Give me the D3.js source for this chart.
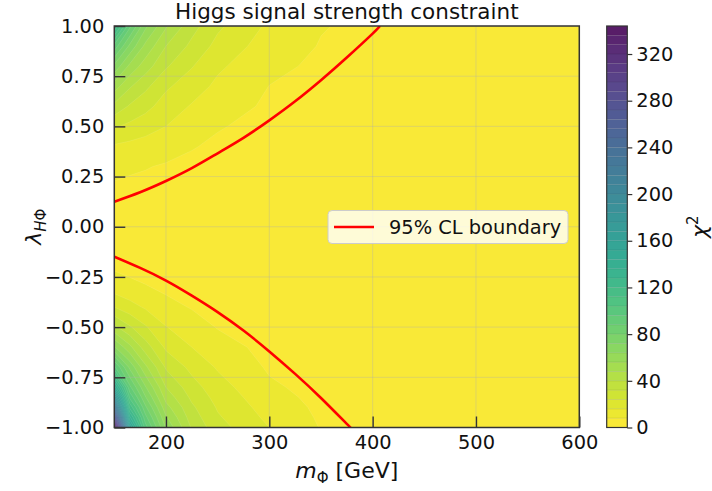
<!DOCTYPE html>
<html>
<head>
<meta charset="utf-8">
<script src="https://cdn.jsdelivr.net/npm/d3@7"></script>
<style>
  body { margin: 0; background: #fff; }
  svg { display: block; }
  text { font-family: "DejaVu Sans", sans-serif; fill: #111; }
</style>
</head>
<body>
<svg id="chart" width="712" height="491"></svg>
<script>
// chi^2 on a (mass, lambda) grid
const massCols = [150, 165, 180, 200, 225, 250, 300, 350, 400, 500, 600];
const lambdaRows = [-1, -0.95, -0.9, -0.85, -0.8, -0.7, -0.6, -0.5, -0.4, -0.3, -0.2, -0.1,
  0, 0.1, 0.2, 0.3, 0.4, 0.5, 0.6, 0.7, 0.8, 0.9, 1];
const chi2Grid = [
  [344, 161, 100, 63, 39, 27, 16, 7.6, 4.8, 2.0, 1.0],
  [275, 138, 91, 57, 36, 25, 14.1, 7.0, 4.3, 1.9, 0.9],
  [225, 118, 82, 51, 33.5, 23.2, 12.4, 6.5, 3.9, 1.7, 0.7],
  [185, 102, 73, 45, 30.3, 21.2, 10.8, 5.9, 3.4, 1.5, 0.6],
  [148, 90, 65, 40, 27.4, 19.2, 9.3, 5.3, 3.0, 1.3, 0.6],
  [98, 70, 50, 31, 21.7, 15.2, 7.0, 4.1, 2.4, 1.0, 0.5],
  [65, 50, 36, 22.5, 16, 11.2, 5.6, 3.0, 1.9, 0.7, 0.35],
  [42, 33, 25, 16.3, 11.5, 7.6, 4.0, 2.2, 1.3, 0.5, 0.25],
  [24, 19, 15, 10.3, 7.5, 5.4, 2.5, 1.5, 0.75, 0.3, 0.15],
  [12, 10, 8.5, 6.5, 4.6, 3.0, 1.5, 0.75, 0.45, 0.17, 0.08],
  [7, 5.8, 4.8, 3.3, 2.0, 1.3, 0.62, 0.33, 0.18, 0.08, 0.03],
  [3.8, 2.2, 1.4, 0.8, 0.5, 0.35, 0.16, 0.08, 0.05, 0.02, 0.01],
  [0, 0, 0, 0, 0, 0, 0, 0, 0, 0, 0],
  [4.8, 3.8, 2.8, 1.5, 0.9, 0.5, 0.23, 0.12, 0.07, 0.03, 0.01],
  [7.2, 6.5, 6.3, 5.0, 2.9, 1.8, 0.9, 0.5, 0.27, 0.11, 0.05],
  [10, 9.2, 8.4, 7.3, 6.1, 4.0, 2.0, 1.1, 0.6, 0.25, 0.12],
  [15, 13.8, 12.5, 11, 8.5, 6.6, 3.6, 2.0, 1.1, 0.44, 0.21],
  [25, 22, 19.5, 16, 12, 8.6, 5.5, 3.1, 1.7, 0.7, 0.34],
  [37.7, 31, 26.5, 20.4, 15.3, 11.4, 6.8, 4.4, 2.5, 1.0, 0.47],
  [52, 41, 34, 25.3, 19.8, 14.3, 7.9, 5.7, 3.4, 1.5, 0.64],
  [70, 54, 44, 33, 24.5, 17.4, 9.8, 6.6, 4.3, 2.0, 0.85],
  [93, 70, 54, 40, 30, 21.6, 12, 7.6, 5.3, 2.5, 1.0],
  [128, 90, 66, 49, 35, 25.5, 14.5, 8.4, 6.3, 3.0, 1.2]
];

// 95% CL boundary curves [mass, lambda]
const upperBoundary = [[150, 0.125], [175, 0.172], [200, 0.228], [225, 0.292], [250, 0.366],
  [275, 0.443], [300, 0.530], [325, 0.625], [350, 0.73], [375, 0.843], [400, 0.962], [407, 1.0]];
const lowerBoundary = [[150, -0.149], [175, -0.205], [200, -0.268], [225, -0.343], [250, -0.425],
  [275, -0.517], [300, -0.621], [325, -0.733], [350, -0.853], [375, -0.982], [378.8, -1.0]];

const xTicks = [200, 300, 400, 500, 600];
const yTicks = [-1, -0.75, -0.5, -0.25, 0, 0.25, 0.5, 0.75, 1];
const cbTicks = [0, 40, 80, 120, 160, 200, 240, 280, 320];
const levelStep = 8, levelMax = 344;

const svg = d3.select("#chart");
const plotL = 114.3, plotR = 579.3, plotT = 26, plotB = 427.5;

const x = d3.scaleLinear().domain([150, 600]).range([plotL, plotR]);
const y = d3.scaleLinear().domain([-1, 1]).range([plotB, plotT]);

const levels = d3.range(0, levelMax + 0.1, levelStep);
const nBands = levels.length - 1;
const bandColor = i => d3.interpolateRgb("#ffffff", d3.interpolateViridis(1 - (i + 0.5) / nBands))(0.9);

// grid index -> data value (d3.contours puts value i at i + 0.5)
const colIdx = d3.scaleLinear().domain(massCols.map((_, i) => i + 0.5)).range(massCols).clamp(true);
const rowIdx = d3.scaleLinear().domain(lambdaRows.map((_, i) => i + 0.5)).range(lambdaRows).clamp(true);
const proj = d3.geoTransform({
  point(px, py) { this.stream.point(x(colIdx(px)), y(rowIdx(py))); }
});
const path = d3.geoPath(proj);

const contours = d3.contours()
  .size([massCols.length, lambdaRows.length])
  .thresholds(levels.slice(0, -1))(chi2Grid.flat());

svg.append("clipPath").attr("id", "clip")
  .append("rect").attr("x", plotL).attr("y", plotT).attr("width", plotR - plotL).attr("height", plotB - plotT);

const plotArea = svg.append("g").attr("clip-path", "url(#clip)");

plotArea.selectAll("path.band")
  .data(contours)
  .enter().append("path")
  .attr("class", "band")
  .attr("d", path)
  .attr("fill", (d, i) => bandColor(i))
  .attr("stroke", "#ffffff")
  .attr("stroke-opacity", 0.18)
  .attr("stroke-width", 0.6);

// grid
plotArea.selectAll(".vgrid").data(xTicks).enter().append("line")
  .attr("x1", d => x(d)).attr("x2", d => x(d)).attr("y1", plotT).attr("y2", plotB)
  .attr("stroke", "#b0b0b0").attr("stroke-opacity", 0.35).attr("stroke-width", 1);
plotArea.selectAll(".hgrid").data(yTicks).enter().append("line")
  .attr("x1", plotL).attr("x2", plotR).attr("y1", d => y(d)).attr("y2", d => y(d))
  .attr("stroke", "#b0b0b0").attr("stroke-opacity", 0.35).attr("stroke-width", 1);

// boundary curves
const line = d3.line().x(d => x(d[0])).y(d => y(d[1])).curve(d3.curveNatural);
[upperBoundary, lowerBoundary].forEach(b => {
  plotArea.append("path").attr("d", line(b))
    .attr("fill", "none").attr("stroke", "#ff0000").attr("stroke-width", 2.6);
});

// axes
const fmt = d3.format(".2f");
const xAxis = d3.axisBottom(x).tickValues(xTicks).tickSizeInner(-11).tickSizeOuter(0).tickPadding(8);
const yAxis = d3.axisLeft(y).tickValues(yTicks).tickFormat(fmt).tickSizeInner(-11).tickSizeOuter(0).tickPadding(10);

const gx = svg.append("g").attr("transform", `translate(0,${plotB})`).call(xAxis);
const gy = svg.append("g").attr("transform", `translate(${plotL},0)`).call(yAxis);
[gx, gy].forEach(g => {
  g.select(".domain").remove();
  g.selectAll(".tick line").attr("stroke", "#333").attr("stroke-width", 1.4);
  g.selectAll(".tick text").attr("font-size", "19.4px").attr("fill", "#111")
    .style("font-family", "'DejaVu Sans', sans-serif");
});

svg.append("rect").attr("x", plotL).attr("y", plotT).attr("width", plotR - plotL).attr("height", plotB - plotT)
  .attr("fill", "none").attr("stroke", "#333").attr("stroke-width", 1.5);

// title and labels
svg.append("text").attr("x", (plotL + plotR) / 2).attr("y", 19).attr("text-anchor", "middle")
  .attr("font-size", "21.5px").text("Higgs signal strength constraint");

const xl = svg.append("text").attr("x", (plotL + plotR) / 2).attr("y", 478).attr("text-anchor", "middle")
  .attr("font-size", "22px");
xl.append("tspan").attr("font-style", "italic").text("m");
xl.append("tspan").attr("font-size", "15px").attr("dy", 5).text("Φ");
xl.append("tspan").attr("dy", -5).text(" [GeV]");

const yl = svg.append("text").attr("transform", `translate(41,${(plotT + plotB) / 2}) rotate(-90)`)
  .attr("text-anchor", "middle").attr("font-size", "22px");
yl.append("tspan").attr("font-style", "italic").text("λ");
yl.append("tspan").attr("font-size", "15px").attr("dy", 5).attr("font-style", "italic").text("H");
yl.append("tspan").attr("font-size", "15px").text("Φ");

// legend
const lg = svg.append("g");
lg.append("rect").attr("x", 328).attr("y", 210.5).attr("width", 240).attr("height", 33).attr("rx", 4)
  .attr("fill", "#ffffff").attr("fill-opacity", 0.8).attr("stroke", "#cccccc").attr("stroke-width", 1);
lg.append("line").attr("x1", 334).attr("x2", 374).attr("y1", 227).attr("y2", 227)
  .attr("stroke", "#ff0000").attr("stroke-width", 2.6);
lg.append("text").attr("x", 389).attr("y", 234).attr("font-size", "19.4px").text("95% CL boundary");

// colorbar
const cbX = 606.7, cbW = 20.6;
const cb = d3.scaleLinear().domain([0, levelMax]).range([plotB, plotT]);
const cbg = svg.append("g");
cbg.selectAll("rect.cb").data(d3.range(nBands)).enter().append("rect")
  .attr("x", cbX).attr("width", cbW)
  .attr("y", i => cb(levels[i + 1])).attr("height", i => cb(levels[i]) - cb(levels[i + 1]))
  .attr("fill", i => bandColor(i));
cbg.selectAll("line.sep").data(levels.slice(1, -1)).enter().append("line")
  .attr("x1", cbX).attr("x2", cbX + cbW).attr("y1", d => cb(d)).attr("y2", d => cb(d))
  .attr("stroke", "#000").attr("stroke-opacity", 0.12).attr("stroke-width", 0.8);
cbg.append("rect").attr("x", cbX).attr("y", plotT).attr("width", cbW).attr("height", plotB - plotT)
  .attr("fill", "none").attr("stroke", "#333").attr("stroke-width", 1.2);
const cbAxis = d3.axisRight(cb).tickValues(cbTicks).tickSizeInner(5).tickSizeOuter(0).tickPadding(4);
const gcb = svg.append("g").attr("transform", `translate(${cbX + cbW},0)`).call(cbAxis);
gcb.select(".domain").remove();
gcb.selectAll(".tick line").attr("stroke", "#333").attr("stroke-width", 1.2);
gcb.selectAll(".tick text").attr("font-size", "19.4px").attr("fill", "#111")
  .style("font-family", "'DejaVu Sans', sans-serif");

const cl = svg.append("text").attr("transform", `translate(707,${(plotT + plotB) / 2}) rotate(-90)`)
  .attr("text-anchor", "middle").attr("font-size", "22px");
cl.append("tspan").attr("font-style", "italic").text("χ");
cl.append("tspan").attr("font-size", "15px").attr("dy", -9).text("2");
</script>
</body>
</html>
